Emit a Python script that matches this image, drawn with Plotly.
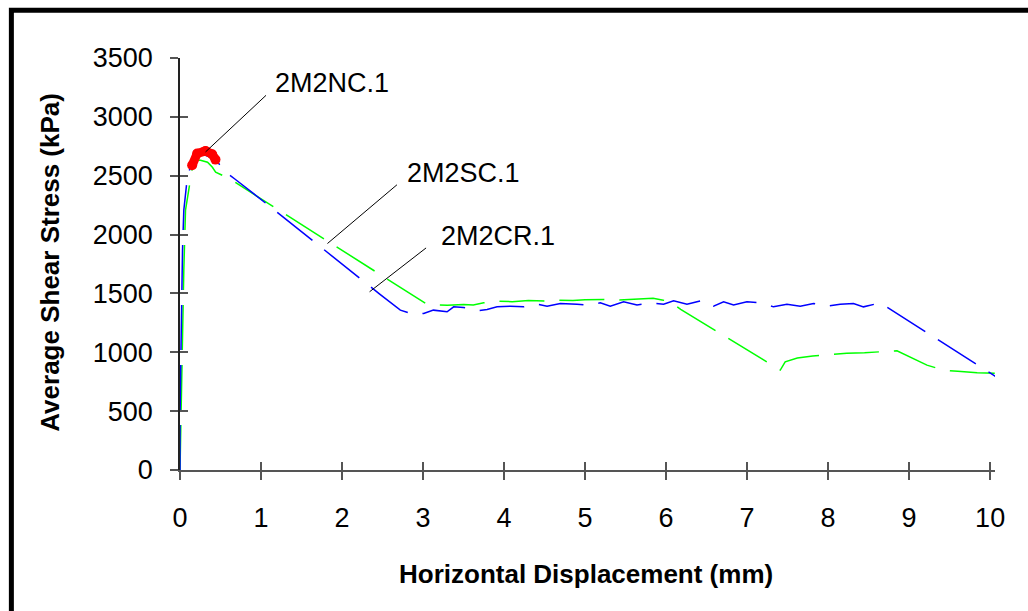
import plotly.graph_objects as go

# ---- data ----
sc_x = [0, 0.006, 0.015, 0.027, 0.047, 0.068, 0.13, 0.167, 0.253, 0.34, 0.40, 0.44, 0.60,
        3.05, 3.3, 3.5, 3.62, 3.75, 3.92, 4.1, 4.3, 4.5, 4.66, 4.85, 5.0, 5.23, 5.4, 5.6, 5.84, 5.95, 6.05,
        6.18, 7.41, 7.47, 7.62, 7.81, 8.0, 8.23, 8.45, 8.64, 8.85, 9.22, 9.42, 9.6, 9.84, 10.12]
sc_y = [0, 255, 679, 1188, 1698, 2207, 2479, 2632, 2632, 2615, 2572, 2530, 2479,
        1407, 1400, 1405, 1401, 1420, 1435, 1430, 1440, 1435, 1443, 1440, 1447, 1449, 1443, 1452, 1458, 1445, 1429,
        1364, 849, 919, 951, 968, 978, 991, 996, 1004, 1013, 891, 849, 838, 826, 821]

cr_x = [0, 0.0, 0.012, 0.019, 0.031, 0.047, 0.089, 0.15, 0.19, 0.315, 0.417, 0.479, 0.52, 0.685, 1.117,
        2.465, 2.72, 2.885, 3.008, 3.128, 3.297, 3.378, 3.50, 3.667, 3.79, 3.914, 4.078, 4.242, 4.407,
        4.531, 4.695, 4.901, 5.025, 5.188, 5.311, 5.476, 5.641, 5.805, 5.969, 6.093, 6.258, 6.463, 6.586,
        6.71, 6.833, 6.998, 7.162, 7.326, 7.492, 7.656, 7.82, 7.985, 8.149, 8.313, 8.437, 8.643, 10.123]
cr_y = [0, 424, 1019, 1443, 1868, 2207, 2476, 2632, 2680, 2674, 2646, 2604, 2553, 2468, 2235,
        1494, 1358, 1322, 1330, 1358, 1344, 1386, 1381, 1352, 1364, 1386, 1392, 1386, 1409,
        1392, 1415, 1409, 1401, 1420, 1392, 1429, 1401, 1420, 1409, 1437, 1409, 1443, 1392,
        1429, 1401, 1429, 1420, 1386, 1409, 1392, 1415, 1392, 1409, 1415, 1386, 1420, 770]

nc_x = [0.15, 0.212, 0.315, 0.397, 0.438]
nc_y = [2589, 2688, 2711, 2683, 2637]

x_ticks = [0, 1, 2, 3, 4, 5, 6, 7, 8, 9, 10]
y_ticks = [0, 500, 1000, 1500, 2000, 2500, 3000, 3500]

labels = ["2M2NC.1", "2M2SC.1", "2M2CR.1"]
label_pts = [(0.315, 2702), (1.82, 1924), (2.34, 1514)]
label_off = [(62, -58), (71, -60), (58, -45)]
label_gap = [7, 9, 13]

FONT = "Liberation Sans, Arial, sans-serif"
DASH = "45px,15px"

fig = go.Figure()
fig.add_trace(go.Scatter(x=sc_x, y=sc_y, mode="lines",
                         line=dict(color="#00FF00", width=1.5, dash=DASH), showlegend=False))
fig.add_trace(go.Scatter(x=cr_x, y=cr_y, mode="lines",
                         line=dict(color="#0000FF", width=1.5, dash=DASH), showlegend=False))
fig.add_trace(go.Scatter(x=nc_x, y=nc_y, mode="lines+markers",
                         line=dict(color="#FF0000", width=9), marker=dict(color="#FF0000", size=10),
                         showlegend=False))
# empty trace for the overlay axes (inside ticks -> crossing ticks)
fig.add_trace(go.Scatter(x=[], y=[], xaxis="x2", yaxis="y2", showlegend=False))

XR = [0, 10.06]
YR = [0, 3500]
PXMM = 81.05
PLOT_W = (XR[1] - XR[0]) * PXMM
axis_common = dict(showgrid=False, zeroline=False, tickcolor="#555", tickwidth=2, ticklen=8)

fig.update_layout(
    width=1028, height=611,
    margin=dict(l=179.5, r=1028 - 179.5 - PLOT_W, t=57.7, b=611 - 470),
    plot_bgcolor="white", paper_bgcolor="white",
    font=dict(family=FONT, color="black"),
    xaxis=dict(range=XR, tickvals=x_ticks, ticks="outside", showline=True, linecolor="#555",
               linewidth=2, tickfont=dict(size=27, family=FONT), ticklabelstandoff=15,
               **axis_common),
    yaxis=dict(range=YR, tickvals=y_ticks, ticks="outside", showline=True, linecolor="#222",
               linewidth=1.5, tickfont=dict(size=27, family=FONT), ticklabelstandoff=12,
               **axis_common),
    xaxis2=dict(range=XR, tickvals=x_ticks, ticks="inside", overlaying="x", anchor="y2",
                showticklabels=False, showline=False, **axis_common),
    yaxis2=dict(range=YR, tickvals=y_ticks, ticks="inside", overlaying="y", anchor="x2",
                side="left", showticklabels=False, showline=False, **axis_common),
)

W = PLOT_W
H = 470 - 57.7

# axis titles
fig.add_annotation(text="<b>Horizontal Displacement (mm)</b>", xref="paper", yref="paper",
                   x=(586 - 179.5) / W, y=(470 - 574) / H, xanchor="center", yanchor="middle",
                   showarrow=False, font=dict(size=26, family=FONT, color="black"))
fig.add_annotation(text="<b>Average Shear Stress (kPa)</b>", xref="paper", yref="paper",
                   x=(50 - 179.5) / W, y=(470 - 262) / H, xanchor="center", yanchor="middle",
                   showarrow=False, textangle=-90, font=dict(size=26, family=FONT, color="black"))

# series labels with leader lines
for t, (px, py), (ax, ay), g in zip(labels, label_pts, label_off, label_gap):
    fig.add_annotation(text="", x=px, y=py, xref="x", yref="y", ax=ax, ay=ay,
                       showarrow=True, arrowhead=0, arrowwidth=1, arrowcolor="black")
    fig.add_annotation(text=t, x=px, y=py, xref="x", yref="y", showarrow=False,
                       xanchor="left", yanchor="bottom", xshift=ax + g - 2, yshift=-ay - 6,
                       font=dict(size=27, family=FONT, color="black"))

# outer frame (only top and left edges fall inside the page)
fig.add_shape(type="rect", xref="paper", yref="paper",
              x0=(10.8 - 179.5) / W, x1=(1200 - 179.5) / W,
              y0=(470 - 10) / H, y1=(470 - 800) / H,
              line=dict(color="black", width=5), fillcolor="rgba(0,0,0,0)", layer="above")

fig.write_html("out.html")
